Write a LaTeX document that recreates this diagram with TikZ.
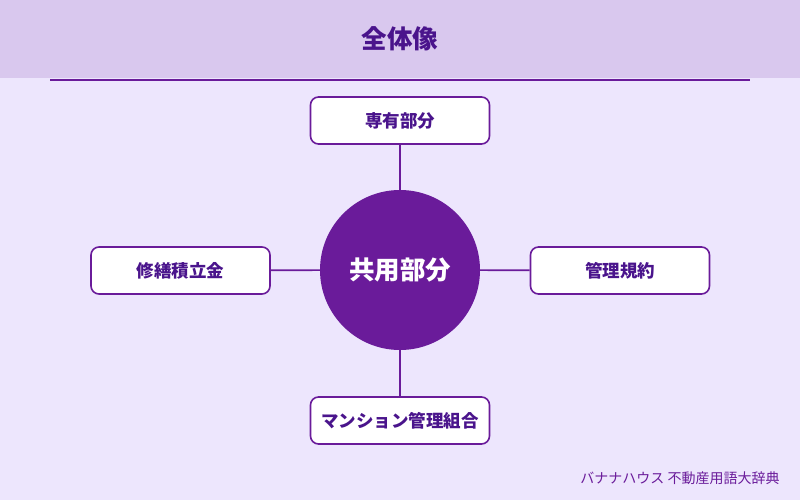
\documentclass[tikz,border=0pt]{standalone}
\usepackage{fontspec}
\setmainfont{Noto Sans CJK JP}
\usetikzlibrary{positioning}

\begin{document}
\begin{tikzpicture}[x=1pt, y=-1pt,
    part/.style={draw=lineColour, fill=white, line width=1.6pt, rounded corners=8pt,
        minimum width=179pt, minimum height=47pt, font=\bfseries\fontsize{17.5}{21}\selectfont, text=textColour},
    link/.style={draw=lineColour, line width=1.6pt}]
    % Define colours
    \definecolor{pageColour}{HTML}{EDE6FD}
    \definecolor{headColour}{HTML}{D9C8EE}
    \definecolor{lineColour}{HTML}{6A1B9A}
    \definecolor{textColour}{HTML}{4A148C}

    % Draw background and header band
    \fill[pageColour] (0,0) rectangle (800,500);
    \fill[headColour] (0,0) rectangle (800,78);
    \draw[lineColour, line width=1.6pt] (50,80) -- (750,80);
    \node[font=\bfseries\fontsize{25.5}{30}\selectfont, text=textColour] (title) at (400,39) {全体像};

    % Draw the centre circle
    \node[circle, fill=lineColour, minimum size=160pt, inner sep=0pt, text=white,
        font=\bfseries\fontsize{25.5}{30}\selectfont] (common) at (400,270) {共用部分};

    % Draw the surrounding parts
    \node[part] (own) at (400,120.5) {専有部分};
    \node[part] (reserve) at (180.5,270.5) {修繕積立金};
    \node[part] (rules) at (620,270.5) {管理規約};
    \node[part] (union) at (400,420.5) {マンション管理組合};

    % Connect parts to the circle
    \draw[link] (own) -- (common);
    \draw[link] (reserve) -- (common);
    \draw[link] (rules) -- (common);
    \draw[link] (union) -- (common);

    % Footer
    \node[font=\fontsize{14}{17}\selectfont, text=lineColour] (credit) at (680,478) {バナナハウス 不動産用語大辞典};
\end{tikzpicture}
\end{document}
